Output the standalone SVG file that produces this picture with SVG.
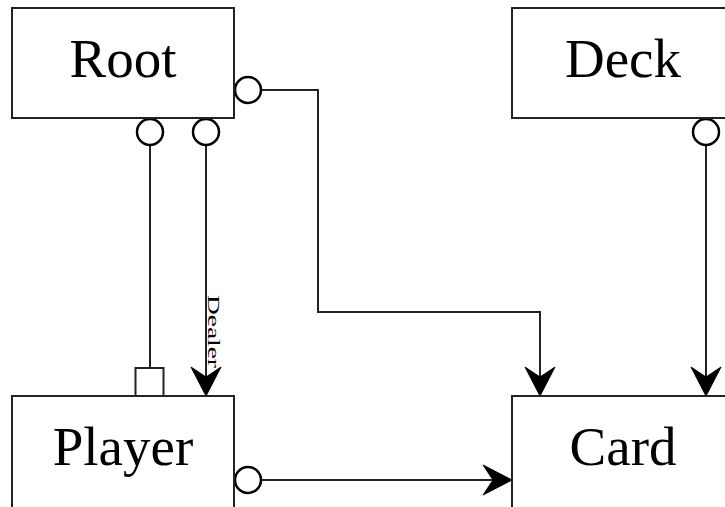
<svg xmlns="http://www.w3.org/2000/svg" width="725" height="507" viewBox="0 0 725 507">
<style>
.box{fill:#fff;stroke:#222;stroke-width:2}
.lbl{font-family:"Liberation Serif","Times New Roman",serif;font-size:55px;fill:#000;text-anchor:middle}
.ln{fill:none;stroke:#222;stroke-width:2}
.end{fill:#fff;stroke:#000;stroke-width:2.5}
.head{fill:#000;stroke:#000;stroke-width:1}
.small{font-family:"Liberation Serif","Times New Roman",serif;font-size:16px;fill:#000}
</style>
<defs>
<polygon id="ah" class="head" points="0,0 -15,-29 0,-19 15,-29"/>
</defs>
<rect width="725" height="507" fill="#fff"/>
<g id="connectors">
<line class="ln" x1="150" y1="145" x2="150" y2="368"/>
<rect class="ln" x="135.5" y="368" width="28" height="28"/>
<line class="ln" x1="206" y1="145" x2="206" y2="394"/>
<use href="#ah" x="206" y="396"/>
<text class="small" transform="translate(208,295) rotate(90)" textLength="73" lengthAdjust="spacingAndGlyphs">Dealer</text>
<polyline class="ln" points="261,90 318,90 318,312 540,312 540,394"/>
<use href="#ah" x="540" y="396"/>
<line class="ln" x1="706" y1="145" x2="706" y2="394"/>
<use href="#ah" x="706" y="396"/>
<line class="ln" x1="261" y1="480" x2="510" y2="480"/>
<use href="#ah" transform="translate(512,480) rotate(-90)"/>
<circle class="end" cx="248" cy="90" r="13"/>
<circle class="end" cx="150" cy="132" r="13"/>
<circle class="end" cx="206" cy="132" r="13"/>
<circle class="end" cx="706" cy="132" r="13"/>
<circle class="end" cx="248" cy="480" r="13"/>
</g>
<g id="root"><rect class="box" x="12" y="8" width="222" height="110"/><text class="lbl" x="123" y="77">Root</text></g>
<g id="deck"><rect class="box" x="512" y="8" width="222" height="110"/><text class="lbl" x="623" y="77">Deck</text></g>
<g id="player"><rect class="box" x="12" y="396" width="222" height="130"/><text class="lbl" x="123" y="465">Player</text></g>
<g id="card"><rect class="box" x="512" y="396" width="222" height="130"/><text class="lbl" x="623" y="465">Card</text></g>
</svg>
